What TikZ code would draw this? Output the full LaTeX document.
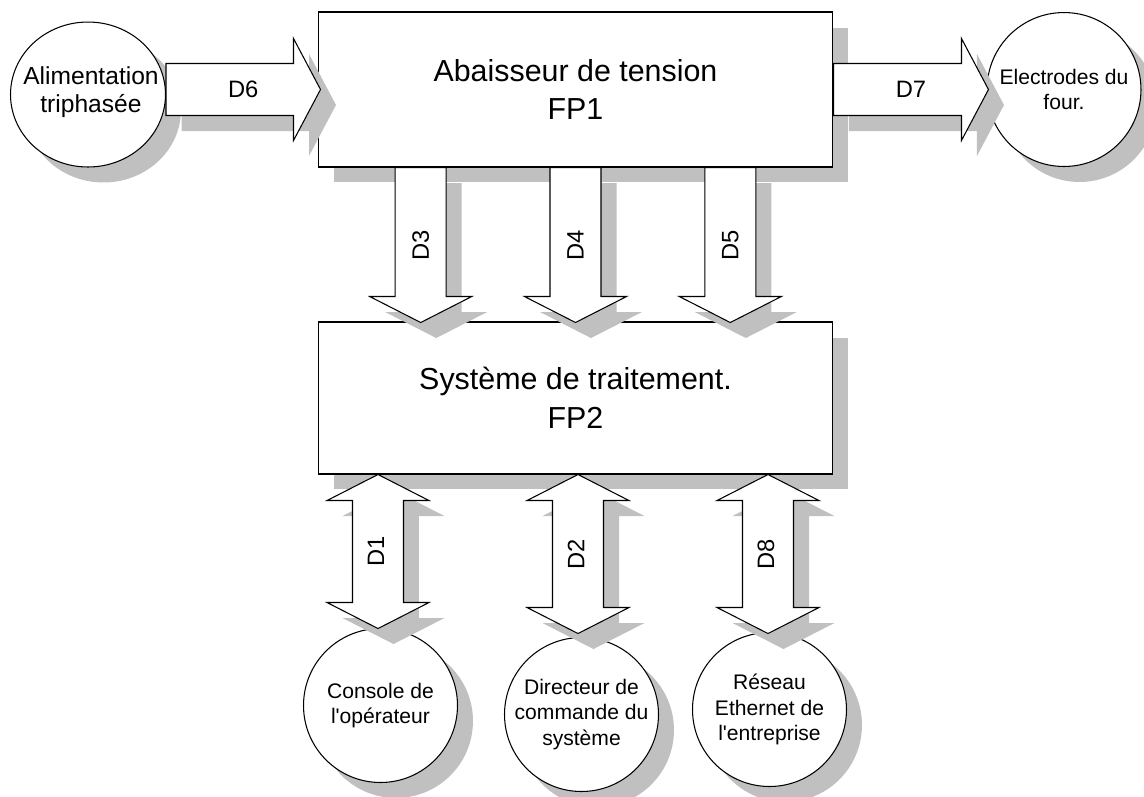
\documentclass[tikz,border=0pt]{standalone}
\usepackage{fontspec}
\setmainfont{Liberation Sans}[Ligatures=TeXOff]
\usetikzlibrary{shapes.geometric, shadows, calc}
\definecolor{shadowgrey}{HTML}{C0C0C0}
\tikzset{
    flatshadow/.style={drop shadow={shadow xshift=0.31cm,
        shadow yshift=-0.31cm, opacity=1, fill=shadowgrey}},
    funcbox/.style={rectangle, draw, fill=white, line width=0.6pt,
        flatshadow, minimum width=10.3cm, inner sep=0pt, align=center,
        font=\fontsize{17.3}{22}\selectfont},
    disc/.style={circle, draw, fill=white, line width=0.6pt,
        flatshadow, minimum size=3.08cm, inner sep=0pt, align=center,
        font=\fontsize{12}{14.5}\selectfont},
    flow/.style={draw, fill=white, line width=0.6pt, flatshadow},
    dlbl/.style={font=\fontsize{13.5}{16}\selectfont, inner sep=0pt},
    % block arrow pointing right, tail at origin
    pics/flowright/.style n args={2}{code={
        \filldraw[flow] (0,-26) -- (#1,-26) -- (#1,-51) -- (#1+27,0)
            -- (#1,51) -- (#1,26) -- (0,26) -- cycle;
        \node[dlbl] (-lbl) at ({(#1+27)/2},0) {#2};
    }},
    % block arrow pointing down, tail at origin
    pics/flowdown/.style n args={2}{code={
        \filldraw[flow] (-25.5,0) -- (-25.5,#1) -- (-51,#1) -- (0,#1+26)
            -- (51,#1) -- (25.5,#1) -- (25.5,0) -- cycle;
        \node[dlbl, rotate=90] (-lbl) at (0,{(#1+26)/2}) {#2};
    }},
    % two-headed block arrow, upper tip at origin
    pics/flowboth/.style n args={2}{code={
        \filldraw[flow] (0,0) -- (51,26) -- (25.5,26) -- (25.5,#1-26)
            -- (51,#1-26) -- (0,#1) -- (-51,#1-26) -- (-25.5,#1-26)
            -- (-25.5,26) -- (-51,26) -- cycle;
        \node[dlbl, rotate=90] (-lbl) at (-2,{#1/2}) {#2};
    }},
}

\begin{document}
\begin{tikzpicture}[x=0.02cm, y=-0.02cm]
\useasboundingbox (0,0) rectangle (1144,796);

% ================================================================
%  EXTERNAL ELEMENTS
% ================================================================

\node[disc, ellipse, minimum width=3.1cm, minimum height=2.9cm]
    (alim) at (88,94.5) {};
\node[font=\fontsize{14}{16}\selectfont, align=center, inner sep=0pt]
    (alimtext) at (91,92.5) {Alimentation\\triphasée};
\node[disc] (four)      at (1064,89.5)  {Electrodes du\\four.};
\node[disc] (console)   at (380.5,705.5) {Console de\\l'opérateur};
\node[disc] (directeur) at (581.5,714.5) {Directeur de\\commande du\\système};
\node[disc] (reseau)    at (769.5,709.5) {Réseau\\Ethernet de\\l'entreprise};

% ================================================================
%  FUNCTIONS
% ================================================================

\node[funcbox, minimum height=3.1cm] (fpone) at (575.5,89.5)
    {Abaisseur de tension\\FP1};
\node[funcbox, minimum height=3.04cm] (fptwo) at (575.5,398)
    {Système de traitement.\\FP2};

% ================================================================
%  FLOWS
% ================================================================

\pic (dsix)   at (alim.east |- fpone.west) {flowright={127.5}{D6}};
\pic (dseven) at (fpone.east)              {flowright={128}{D7}};

\pic (dthree) at ($(fpone.south west)!0.2!(fpone.south east)$)
    {flowdown={129}{D3}};
\pic (dfour)  at ($(fpone.south west)!0.5!(fpone.south east)$)
    {flowdown={129}{D4}};
\pic (dfive)  at ($(fpone.south west)!0.8!(fpone.south east)$)
    {flowdown={129}{D5}};

\pic (done)   at ($(fptwo.south -| console)+(-2.5,0)$)   {flowboth={154}{D1}};
\pic (dtwo)   at ($(fptwo.south -| directeur)+(-3.5,0)$) {flowboth={159}{D2}};
\pic (deight) at ($(fptwo.south -| reseau)+(-1.5,0)$)    {flowboth={159}{D8}};

\end{tikzpicture}
\end{document}
